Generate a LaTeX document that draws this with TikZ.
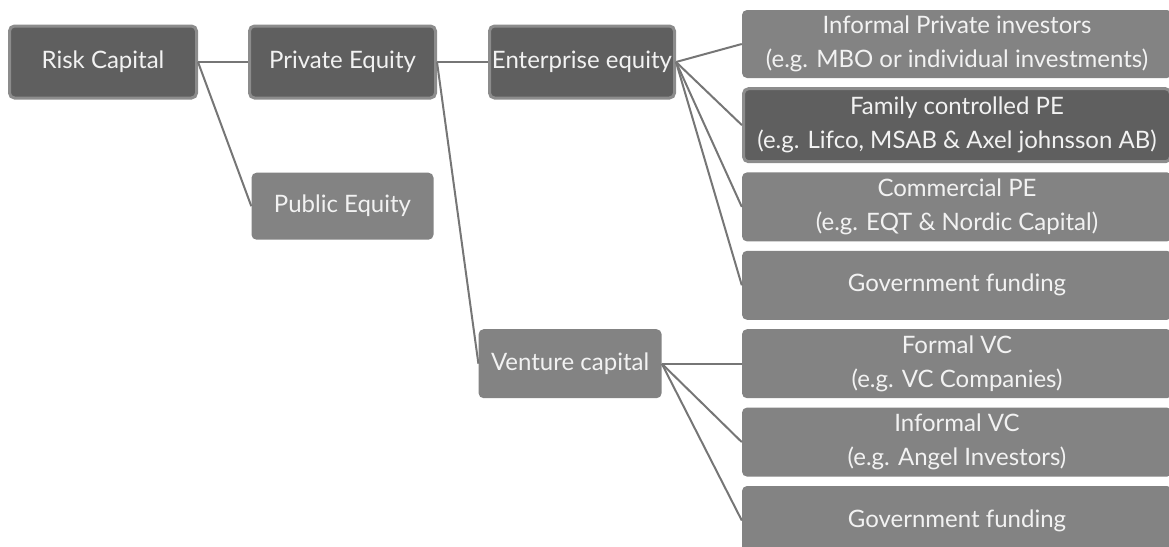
\documentclass[tikz,border=0pt]{standalone}
\usepackage{fontspec}
\setmainfont{Lato}
\usetikzlibrary{positioning}
\definecolor{boxdark}{HTML}{5F5F5F}
\definecolor{boxlight}{HTML}{838383}
\definecolor{boxrim}{HTML}{8C8C8C}
\definecolor{wire}{HTML}{767676}
\definecolor{ink}{HTML}{F2F2F2}

\begin{document}
\begin{tikzpicture}[x=1pt, y=-1pt,
    dark/.style={rectangle, rounded corners=5pt, draw=boxrim, line width=3pt, fill=boxdark, text=ink, align=center, inner sep=0pt, font=\fontsize{24}{34}\selectfont},
    light/.style={rectangle, rounded corners=5pt, fill=boxlight, text=ink, align=center, inner sep=0pt, font=\fontsize{24}{34}\selectfont},
    wide/.style={minimum width=430pt, minimum height=69pt},
    link/.style={draw=wire, line width=2pt}
]

\clip (0,0) rectangle (1169,546);

\node[dark, minimum width=187pt, minimum height=72pt] (risk) at (103,62) {Risk Capital};
\node[dark, minimum width=186pt, minimum height=72pt, right=50pt of risk] (private) {Private Equity};
\node[light, minimum width=182pt, minimum height=67pt, below=73pt of private] (public) {Public Equity};
\node[dark, minimum width=185pt, minimum height=72pt, right=51pt of private] (enterprise) {Enterprise equity};

\node[light, wide, minimum height=68pt] (informal) at (957,44) {Informal Private investors\\(e.g. MBO or individual investments)};
\node[dark, minimum width=427pt, minimum height=73pt, below=9pt of informal] (family) {Family controlled PE\\(e.g. Lifco, MSAB \& Axel johnsson AB)};
\node[light, wide, below=9pt of family] (commercial) {Commercial PE\\(e.g. EQT \& Nordic Capital)};
\node[light, wide, below=9pt of commercial] (govpe) {Government funding};
\node[light, wide, below=9pt of govpe] (formal) {Formal VC\\(e.g. VC Companies)};
\node[light, wide, below=9pt of formal] (angel) {Informal VC\\(e.g. Angel Investors)};
\node[light, wide, below=9pt of angel] (govvc) {Government funding};

\node[light, minimum width=183pt, minimum height=69pt, left=80pt of formal] (venture) {Venture capital};

\draw[link] (risk.east) -- (private.west);
\draw[link] (risk.east) -- (public.west);
\draw[link] (private.east) -- (enterprise.west);
\draw[link] (private.east) -- (venture.west);
\foreach \n in {informal,family,commercial,govpe}
    \draw[link] (enterprise.east) -- (\n.west);
\foreach \n in {formal,angel,govvc}
    \draw[link] (venture.east) -- (\n.west);

\end{tikzpicture}
\end{document}
